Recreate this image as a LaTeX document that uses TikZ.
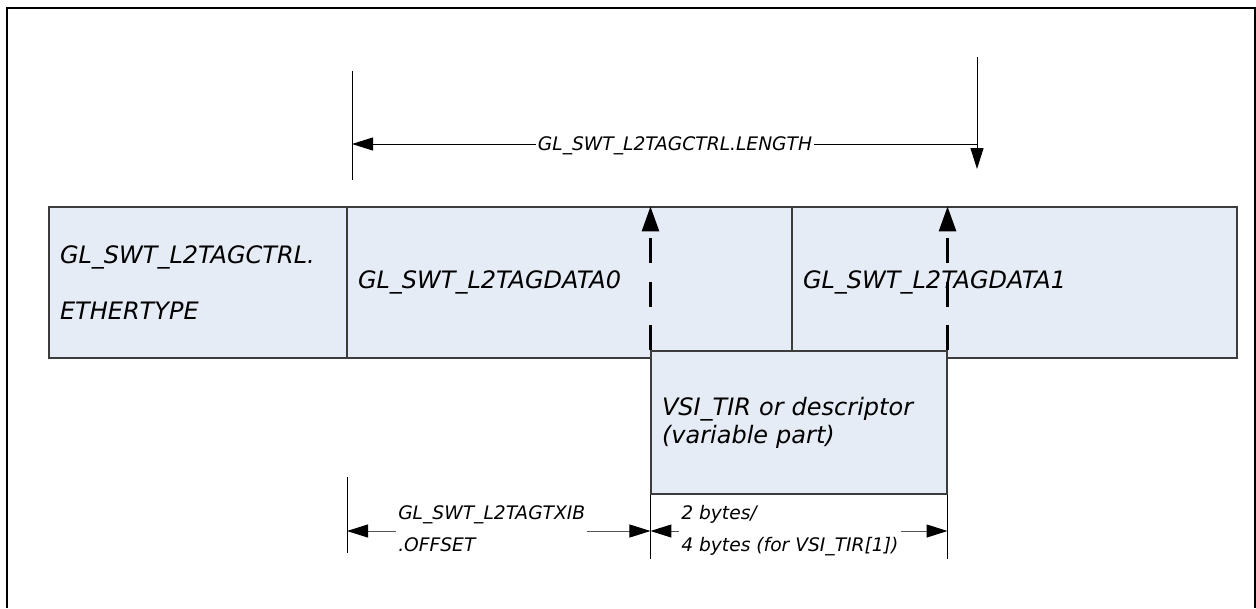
\documentclass[tikz,border=0pt]{standalone}
\usepackage{fontspec}
\setsansfont{DejaVu Sans}
\usepackage{tikz}
\usetikzlibrary{arrows.meta}
\usepackage{xcolor}
\definecolor{tagField}{HTML}{E6ECF6}
\definecolor{tagBorder}{HTML}{3C3C3C}
\definecolor{tagDim}{HTML}{555555}

\begin{document}
\begin{tikzpicture}[
        x=0.75pt, y=-0.75pt,
        field/.style={
            draw=tagBorder,
            fill=tagField,
            line width=0.8pt,
            inner xsep=8.25pt,
            inner ysep=0pt,
            minimum height=113.25pt,
            align=left,
            font=\sffamily\itshape\fontsize{18pt}{21pt}\selectfont
        },
        dimlabel/.style={
            inner sep=1.5pt,
            align=left,
            font=\sffamily\itshape\fontsize{14pt}{24pt}\selectfont
        },
        thinarrow/.style={
            -{Triangle[length=15.75pt,width=9.75pt]},
            line width=0.75pt
        },
        dimarrow/.style={
            -{Triangle[length=15.75pt,width=9.75pt,color=black]},
            line width=0.75pt,
            draw=tagDim
        },
        dasharrow/.style={
            -{Triangle[length=18.75pt,width=12.75pt]},
            line width=2.2pt,
            dash pattern=on 18.75pt off 14pt
        }
    ]

    \useasboundingbox (0,0) rectangle (1256,608);
    \draw[line width=1.3pt] (7,608) -- (7,8) -- (1255,8) -- (1255,608);

    \node[field, text width=207pt,
          font=\sffamily\itshape\fontsize{18pt}{42pt}\selectfont] (ether) at (198,282.5)
        {GL\_SWT\_L2TAGCTRL.\\ETHERTYPE};
    \node[field, text width=317.25pt] (data0) at (569.5,282.5) {GL\_SWT\_L2TAGDATA0};
    \node[field, text width=317.25pt] (data1) at (1014.5,282.5) {GL\_SWT\_L2TAGDATA1};
    \node[field, text width=205.5pt, minimum height=107.25pt] (vsi) at (799,422.5)
        {VSI\_TIR or descriptor\\(variable part)};

    \draw[dasharrow] (vsi.north west) -- (vsi.north west |- data0.north);
    \draw[dasharrow] (vsi.north east) -- (vsi.north east |- data1.north);

    % length of the tag
    \coordinate (lenL) at (352,144);
    \coordinate (lenTop) at (977,57);
    \coordinate (lenBot) at (977,169);
    \draw[line width=0.75pt] (352,71) -- (352,180);
    \node[dimlabel, anchor=base] (lenlbl) at (675,150.5) {GL\_SWT\_L2TAGCTRL.LENGTH};
    \draw[thinarrow] (lenlbl.west |- lenL) -- (lenL);
    \draw[line width=0.75pt] (lenlbl.east |- lenL) -- (lenL -| lenTop);
    \draw[thinarrow] (lenTop) -- (lenBot);

    % offset and size of the inserted part
    \coordinate (offL) at (347,531);
    \draw[line width=0.75pt] (347,477) -- (347,553);
    \draw[line width=0.75pt] (vsi.south west) -- ++(0,64);
    \draw[line width=0.75pt] (vsi.south east) -- ++(0,64);
    \node[dimlabel, anchor=west] (offlbl) at (396,529) {GL\_SWT\_L2TAGTXIB\\.OFFSET};
    \node[dimlabel, anchor=west] (bytelbl) at (679,531) {2 bytes/\\4 bytes (for VSI\_TIR[1])};
    \draw[dimarrow] (offlbl.west |- offL) -- (offL);
    \draw[dimarrow] (offlbl.east |- offL) -- (offL -| vsi.west);
    \draw[dimarrow] (bytelbl.west |- offL) -- (offL -| vsi.west);
    \draw[dimarrow] (bytelbl.east |- offL) -- (offL -| vsi.east);

\end{tikzpicture}
\end{document}
